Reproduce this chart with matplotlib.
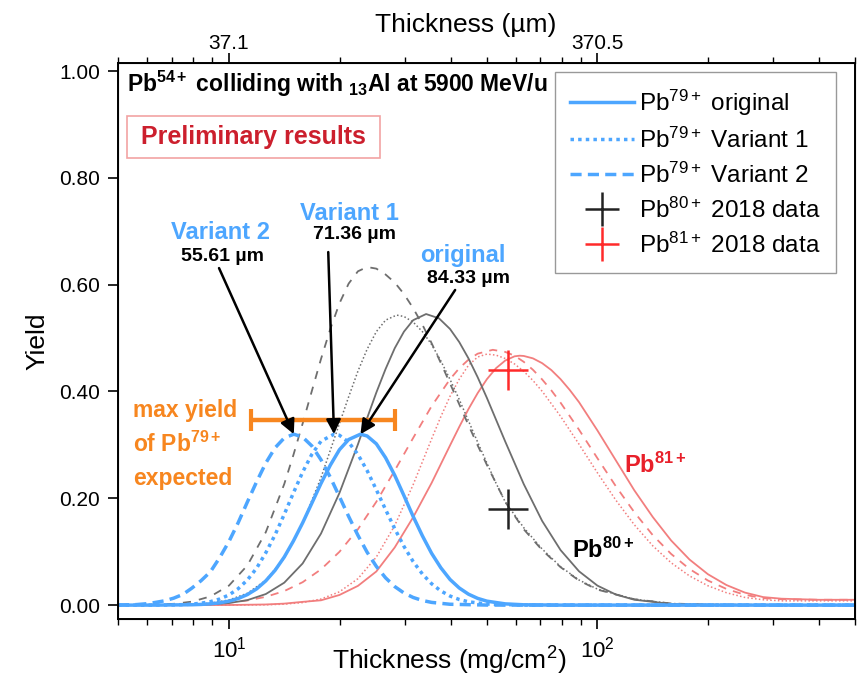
import numpy as np
import matplotlib
matplotlib.use('Agg')
import matplotlib.pyplot as plt
from matplotlib.patches import Rectangle
from matplotlib.ticker import FixedLocator, FormatStrFormatter, NullFormatter, LogLocator

plt.rcParams['font.family'] = ['Liberation Sans', 'DejaVu Sans']
plt.rcParams['mathtext.fontset'] = 'custom'
plt.rcParams['mathtext.rm'] = 'Liberation Sans'
plt.rcParams['mathtext.it'] = 'Liberation Sans:italic'
plt.rcParams['mathtext.bf'] = 'Liberation Sans:bold'
plt.rcParams['mathtext.sf'] = 'Liberation Sans'

# ---- data (thickness in mg/cm^2, yield) ----
# Pb79+ (blue)
x_b_orig = [5.0, 6.31, 7.94, 8.41, 8.91, 9.44, 10.0, 10.59, 11.22, 11.89, 12.59, 13.34, 14.13,
            14.96, 15.85, 16.79, 17.78, 18.84, 19.95, 21.13, 22.75, 23.71, 25.12, 26.61, 28.18,
            29.85, 31.62, 33.5, 35.48, 37.58, 39.81, 42.17, 44.67, 47.32, 50.12, 56.23, 63.1,
            79.43, 500]
y_b_orig = [0, 0, .0007, .0013, .0024, .0043, .0074, .0123, .0197, .0304, .0454, .0651, .090,
            .120, .154, .191, .228, .262, .291, .310, .320, .3167, .302, .276, .243,
            .205, .166, .1297, .097, .070, .048, .0321, .0205, .0126, .0074, .0023, .0006,
            0, 0]

x_b_var1 = [5.0, 6.31, 7.08, 7.5, 7.94, 8.41, 8.91, 9.44, 10.0, 10.59, 11.22, 11.89, 12.59,
            13.34, 14.13, 14.96, 15.85, 16.79, 17.78, 19.28, 19.95, 21.13, 22.39, 23.71, 25.12,
            26.61, 28.18, 29.85, 31.62, 33.5, 35.48, 37.58, 39.81, 42.17, 44.67, 50.12, 63.1,
            100, 500]
y_b_var1 = [0, .0001, .0004, .0009, .0019, .0036, .0065, .0114, .019, .0306, .047, .0692, .098,
            .1315, .170, .210, .249, .2824, .307, .320, .318, .305, .282, .252, .216,
            .179, .143, .110, .0815, .0582, .040, .0266, .017, .0105, .0062, .002, .0001,
            0, 0]

x_b_var2 = [5.0, 5.62, 5.96, 6.31, 6.68, 7.08, 7.5, 7.94, 8.41, 8.91, 9.44, 10.0, 10.59,
            11.22, 11.89, 12.59, 13.34, 14.13, 15.0, 15.85, 16.79, 17.78, 18.84, 19.95, 21.13,
            22.39, 23.71, 25.12, 26.61, 28.18, 29.85, 31.62, 33.5, 35.48, 39.81, 50.12, 100, 500]
y_b_var2 = [.0002, .001, .0025, .005, .008, .013, .020, .032, .046, .0625, .089, .119, .154,
            .193, .231, .266, .2945, .313, .320, .3146, .298, .272, .2394, .203, .166,
            .1307, .0991, .0725, .0511, .0347, .0227, .0143, .0087, .0051, .0016, .0001, 0, 0]

# Pb80+ (grey)
x_g_orig = [5.0, 6.31, 7.94, 8.91, 10.0, 11.22, 12.59, 14.13, 15.85, 17.78, 19.95, 22.39, 23.71,
            25.12, 26.61, 28.18, 29.85, 31.62, 34.28, 37.15, 39.81, 42.17, 44.67, 47.32, 50.12,
            56.23, 63.1, 70.79, 79.43, 89.13, 100, 112.2, 125.9, 158.5, 199.5, 500]
y_g_orig = [0, 0, .0005, .0015, .0039, .0093, .0207, .042, .078, .134, .21, .301, .35,
            .398, .442, .481, .512, .5335, .545, .537, .517, .4925, .462, .4266, .388,
            .306, .2266, .1576, .103, .0633, .0365, .0198, .0101, .0022, .0004, 0]

x_g_var1 = [5.0, 6.31, 7.94, 8.91, 10.0, 11.22, 12.59, 14.13, 15.85, 17.78, 19.95, 21.13, 22.39,
            23.71, 25.12, 26.61, 28.51, 29.85, 31.62, 33.5, 35.48, 37.58, 39.81, 42.17, 44.67,
            47.32, 50.12, 53.09, 56.23, 63.1, 70.79, 79.43, 89.13, 100, 125.9, 158.5, 199.5, 500]
y_g_var1 = [0, .0001, .0013, .0037, .0096, .0221, .0464, .088, .1525, .239, .34, .39, .438,
            .479, .512, .5335, .543, .5404, .53, .512, .488, .4575, .4225, .385, .345,
            .305, .266, .228, .193, .145, .105, .072, .047, .03, .011, .003, .001, 0]

x_g_var2 = [5.0, 6.31, 7.08, 7.94, 8.91, 10.0, 11.22, 12.59, 14.13, 14.96, 15.85, 16.79, 17.78,
            18.84, 19.95, 21.13, 22.39, 23.71, 25.12, 26.61, 28.18, 29.85, 31.62, 33.5, 35.48,
            37.58, 39.81, 42.17, 44.67, 47.32, 50.12, 53.09, 56.23, 63.1, 70.79, 79.43, 89.13,
            100, 125.9, 158.5, 199.5, 500]
y_g_var2 = [.0001, .0008, .0024, .0065, .0163, .0365, .0743, .1365, .2267, .281, .340, .401, .461,
            .517, .565, .602, .625, .633, .630, .619, .604, .5825, .556, .525, .4905,
            .4535, .415, .376, .337, .299, .2625, .228, .193, .142, .103, .071, .046,
            .029, .011, .003, .001, 0]

# Pb81+ (red)
x_r_orig = [5.0, 10.0, 12.59, 14.13, 15.85, 17.78, 19.95, 22.39, 25.12, 28.18, 31.62, 35.48, 39.81,
            42.17, 44.67, 47.32, 50.12, 53.09, 56.23, 59.57, 61.5, 63.1, 66.83, 70.79, 74.99,
            79.43, 84.14, 89.13, 100, 112.2, 125.9, 141.3, 158.5, 177.8, 199.5, 223.9, 251.2,
            281.8, 316.2, 398.1, 500]
y_r_orig = [0, .0002, .0012, .0028, .0061, .009, .019, .036, .063, .108, .1645, .2287, .299,
            .3337, .367, .397, .423, .4437, .458, .4658, .467, .4665, .462, .453, .440,
            .423, .4027, .380, .327, .271, .215, .165, .121, .0853, .0578, .0376, .0235,
            .015, .012, .010, .010]

x_r_var2 = [5.0, 7.94, 10.0, 11.22, 12.59, 14.13, 15.85, 17.78, 19.95, 22.39, 25.12, 28.18, 31.62,
            35.48, 39.81, 42.17, 44.67, 47.32, 52.0, 56.23, 59.57, 63.1, 66.83, 70.79, 74.99,
            79.43, 89.13, 100, 112.2, 125.9, 141.3, 158.5, 177.8, 199.5, 223.9, 251.2, 281.8,
            316.2, 398.1, 500]
y_r_var2 = [0, .0011, .0046, .0087, .0155, .0263, .0429, .067, .0998, .142, .1935, .252, .313,
            .3725, .423, .4435, .4595, .4708, .478, .474, .467, .4555, .4406, .4225, .402,
            .379, .3284, .275, .2225, .174, .131, .0958, .0676, .046, .0303, .0193, .013,
            .011, .010, .010]

x_r_var1 = [5.0, 10.0, 12.59, 14.13, 15.85, 17.78, 19.95, 22.39, 25.12, 28.18, 31.62, 35.48, 37.58,
            39.81, 42.17, 44.67, 47.32, 50.12, 53.09, 56.23, 59.57, 63.1, 66.83, 70.79, 79.43,
            89.13, 100, 112.2, 125.9, 141.3, 158.5, 177.8, 199.5, 223.9, 251.2, 281.8, 316.2,
            398.1, 500]
y_r_var1 = [0, .0001, .0006, .0018, .0048, .0114, .0249, .0495, .090, .149, .2255, .311, .3527,
            .391, .423, .449, .4646, .470, .468, .4617, .4515, .4377, .4206, .4004, .3535,
            .3013, .2477, .1965, .1505, .111, .0793, .0546, .0362, .0232, .0144, .010, .008,
            .008, .008]

# 2018 data points
data_x = 57.1
pb80_y = 0.18
pb81_y = 0.44

# expected max yield band
maxyield_x = 18.0
maxyield_lo = 11.5
maxyield_hi = 28.3
maxyield_y = 0.346

# peak positions (mg/cm^2) pointed at by the arrows
peak_orig = 22.75
peak_var1 = 19.28
peak_var2 = 15.0
peak_y = 0.32

top_ticks = [10, 100]
top_labels = ['37.1', '370.5']

blue = '#4da6ff'
grey = '#6e6e6e'
red = '#f27e7e'
orange = '#f7861f'

fig = plt.figure(figsize=(8.63, 6.78), dpi=100)
ax = fig.add_axes([118/863, 59/678, 737/863, 556/678])

dot = (0, (1, 1.5))
ax.plot(x_r_orig, y_r_orig, color=red, lw=1.3)
ax.plot(x_r_var2, y_r_var2, color=red, lw=1.3, ls=(0, (4.5, 4)))
ax.plot(x_r_var1, y_r_var1, color=red, lw=1.1, ls=dot)
ax.plot(x_g_orig, y_g_orig, color=grey, lw=1.3)
ax.plot(x_g_var2, y_g_var2, color=grey, lw=1.3, ls=(0, (4.5, 4.5)))
ax.plot(x_g_var1, y_g_var1, color=grey, lw=1.1, ls=dot)
l1, = ax.plot(x_b_orig, y_b_orig, color=blue, lw=2.5)
l2, = ax.plot(x_b_var1, y_b_var1, color=blue, lw=2.5, ls=(0, (1, 1.2)))
l3, = ax.plot(x_b_var2, y_b_var2, color=blue, lw=2.5, ls=(0, (3.2, 1.8)))
m1, = ax.plot([data_x], [pb80_y], ls='none', marker='+', ms=29, mew=1.8, color='#222222')
m2, = ax.plot([data_x], [pb81_y], ls='none', marker='+', ms=29, mew=1.8, color='#ff2a2a')

ax.errorbar([maxyield_x], [maxyield_y],
            xerr=[[maxyield_x - maxyield_lo], [maxyield_hi - maxyield_x]],
            fmt='none', ecolor=orange, elinewidth=3.2, capsize=8, capthick=3)

ax.set_xscale('log')
ax.set_xlim(5, 500)
ax.set_ylim(-0.026, 1.015)
ax.yaxis.set_major_locator(FixedLocator([0, 0.2, 0.4, 0.6, 0.8, 1.0]))
ax.yaxis.set_major_formatter(FormatStrFormatter('%.2f'))
ax.xaxis.set_minor_formatter(NullFormatter())
ax.tick_params(axis='both', which='major', direction='out', length=7, width=1.2,
               labelsize=15, pad=6)
ax.tick_params(axis='x', which='major', labelsize=16)
ax.tick_params(axis='x', which='minor', direction='out', length=4, width=1.0)
ax.tick_params(top=False, right=False)
for s in ax.spines.values():
    s.set_linewidth(1.4)

ax.set_ylabel('Yield', fontsize=19, labelpad=7)
ax.set_xlabel(r'Thickness (mg/cm$^{2}$)', fontsize=19)
ax.xaxis.set_label_coords(0.449, -0.046)

ax_top = ax.twiny()
ax_top.set_xscale('log')
ax_top.set_xlim(5, 500)
ax_top.xaxis.set_major_locator(FixedLocator(top_ticks))
ax_top.set_xticklabels(top_labels)
ax_top.xaxis.set_minor_locator(LogLocator(base=10, subs=np.arange(2, 10)))
ax_top.xaxis.set_minor_formatter(NullFormatter())
ax_top.tick_params(axis='x', which='major', direction='out', length=7, width=1.2,
                   labelsize=15, pad=0)
ax_top.tick_params(axis='x', which='minor', direction='out', length=4, width=1.0)
ax_top.set_xlabel('Thickness (µm)', fontsize=19)
ax_top.xaxis.set_label_coords(0.472, 1.055)

# header texts
ax.text(0.012, 0.962, r'Pb$^{\mathbf{54+}}$ colliding with $_{\mathbf{13}}$Al at 5900 MeV/u',
        transform=ax.transAxes, fontsize=16.5, fontweight='bold', ha='left', va='center')
ax.add_patch(Rectangle((0.0122, 0.829), 0.3433, 0.0755, transform=ax.transAxes,
                       fc='white', ec='#f2a3a3', lw=1.2, zorder=3))
ax.text(0.1839, 0.867, 'Preliminary results', transform=ax.transAxes, fontsize=18,
        fontweight='bold', color='#cc1f2d', ha='center', va='center', zorder=4)

# orange note
ax.text(0.0204, 0.363, 'max yield', transform=ax.transAxes, fontsize=16.5,
        fontweight='bold', color=orange, ha='left', va='baseline')
ax.text(0.0204, 0.300, r'of Pb$^{\mathbf{79+}}$', transform=ax.transAxes, fontsize=16.5,
        fontweight='bold', color=orange, ha='left', va='baseline')
ax.text(0.0204, 0.241, 'expected', transform=ax.transAxes, fontsize=16.5,
        fontweight='bold', color=orange, ha='left', va='baseline')

# arrows and labels
arrow = dict(arrowstyle='-|>', color='black', lw=1.8, mutation_scale=22, shrinkA=0, shrinkB=0)
ax.annotate('', xy=(peak_var2, peak_y), xytext=(9.4, 0.631), arrowprops=arrow)
ax.annotate('', xy=(peak_var1, peak_y), xytext=(18.6, 0.661), arrowprops=arrow)
ax.annotate('', xy=(peak_orig, peak_y), xytext=(41.1, 0.590), arrowprops=arrow)

ax.text(9.5, 0.698, 'Variant 2', color=blue, fontsize=17, fontweight='bold', ha='center', va='center')
ax.text(9.6, 0.652, '55.61 µm', color='black', fontsize=14, fontweight='bold', ha='center', va='center')
ax.text(21.2, 0.734, 'Variant 1', color=blue, fontsize=17, fontweight='bold', ha='center', va='center')
ax.text(21.9, 0.693, '71.36 µm', color='black', fontsize=14, fontweight='bold', ha='center', va='center')
ax.text(43.2, 0.655, 'original', color=blue, fontsize=17, fontweight='bold', ha='center', va='center')
ax.text(44.6, 0.612, '84.33 µm', color='black', fontsize=14, fontweight='bold', ha='center', va='center')

ax.text(118, 0.262, r'Pb$^{\mathbf{81+}}$', color='#e8202a', fontsize=17, fontweight='bold',
        ha='left', va='center')
ax.text(85.5, 0.103, r'Pb$^{\mathbf{80+}}$', color='black', fontsize=17, fontweight='bold',
        ha='left', va='center')

leg = ax.legend([l1, l2, l3, m1, m2],
                [r'Pb$^{79+}$ original', r'Pb$^{79+}$ Variant 1', r'Pb$^{79+}$ Variant 2',
                 r'Pb$^{80+}$ 2018 data', r'Pb$^{81+}$ 2018 data'],
                loc='upper right', bbox_to_anchor=(0.974, 0.984), borderaxespad=0,
                fontsize=17.5, handlelength=2.6, handletextpad=0.2, labelspacing=0.4,
                borderpad=0.65, fancybox=False, framealpha=1, edgecolor='#999999',
                markerscale=0.85)
leg.get_frame().set_linewidth(1.0)

fig.savefig('out.png', dpi=100)
